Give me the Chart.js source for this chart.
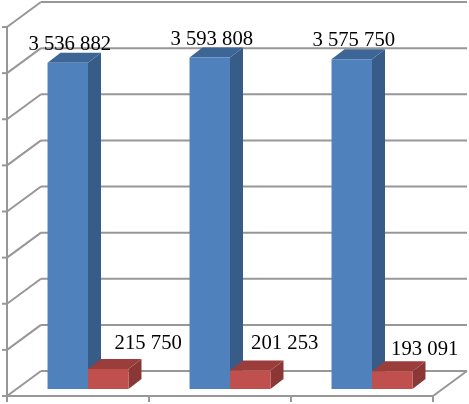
<!DOCTYPE html>
<html>
<head>
<meta charset="utf-8">
<style>html,body{margin:0;padding:0;background:#fff}canvas{display:block}</style>
<script src="https://cdn.jsdelivr.net/npm/chart.js@4/dist/chart.umd.min.js"></script>
</head>
<body>
<div style="width:469px;height:404px"><canvas id="c"></canvas></div>
<script>
const categories = ['A', 'B', 'C'];
const blueValues = [3536882, 3593808, 3575750];
const redValues = [215750, 201253, 193091];
const yTicks = [0, 500000, 1000000, 1500000, 2000000, 2500000, 3000000, 3500000, 4000000];

const blueLabels = ['3 536 882', '3 593 808', '3 575 750'];
const redLabels = ['215 750', '201 253', '193 091'];
const blueLabelNudge = [[2, -13], [2, -12], [2, -13]];
const redLabelNudge = [[40, -20], [34.5, -21], [32.5, -16]];

const BACK = [24, -18];   // bar plane -> back wall
const FRONT = [-10, 7];   // bar plane -> front edge of floor
const BAR_DEPTH = [13, -10];
const GRID = '#979797';

function poly(ctx, pts, fill) {
  ctx.beginPath();
  pts.forEach((p, i) => i ? ctx.lineTo(p[0], p[1]) : ctx.moveTo(p[0], p[1]));
  ctx.closePath();
  ctx.fillStyle = fill;
  ctx.fill();
}
function line(ctx, x1, y1, x2, y2) {
  ctx.beginPath(); ctx.moveTo(x1, y1); ctx.lineTo(x2, y2); ctx.stroke();
}
function block(ctx, el, sideColor, topColor) {
  const half = el.width / 2, l = el.x - half, r = el.x + half, t = el.y, b = el.base;
  const [dx, dy] = BAR_DEPTH;
  poly(ctx, [[r, t], [r + dx, t + dy], [r + dx, b + dy], [r, b]], sideColor);
  poly(ctx, [[l, t], [r, t], [r + dx, t + dy], [l + dx, t + dy]], topColor);
}

const walls3d = {
  id: 'walls3d',
  beforeDatasetsDraw(chart) {
    const { ctx, chartArea: a, scales: { y } } = chart;
    const fl = a.left + FRONT[0], fr = a.right + FRONT[0];
    const bl = a.left + BACK[0], br = a.right + BACK[0];
    ctx.save();
    ctx.strokeStyle = GRID;
    ctx.lineWidth = 2;
    yTicks.forEach(v => {
      const p = y.getPixelForValue(v);
      line(ctx, fl, p + FRONT[1], bl, p + BACK[1]);
      line(ctx, bl, p + BACK[1], br, p + BACK[1]);
      line(ctx, fl - 5, p + FRONT[1], fl, p + FRONT[1]);
    });
    const y0 = y.getPixelForValue(0), yMax = y.getPixelForValue(4000000);
    line(ctx, fl, yMax + FRONT[1], fl, y0 + FRONT[1]);
    line(ctx, fl, y0 + FRONT[1], fr, y0 + FRONT[1]);
    line(ctx, fr, y0 + FRONT[1], br, y0 + BACK[1]);
    for (let i = 0; i <= categories.length; i++) {
      const tx = fl + (fr - fl) * i / categories.length;
      line(ctx, tx, y0 + FRONT[1], tx, y0 + FRONT[1] + 6);
    }
    chart.getDatasetMeta(0).data.forEach(el => block(ctx, el, '#375C88', '#3D6696'));
    chart.getDatasetMeta(1).data.forEach(el => block(ctx, el, '#8A3735', '#9A3D3B'));
    ctx.restore();
  },
  afterDatasetsDraw(chart) {
    const { ctx } = chart;
    ctx.save();
    ctx.font = '20.7px "Liberation Serif"';
    ctx.fillStyle = '#000';
    ctx.textAlign = 'center';
    ctx.textBaseline = 'alphabetic';
    chart.getDatasetMeta(0).data.forEach((el, i) =>
      ctx.fillText(blueLabels[i], el.x + blueLabelNudge[i][0], el.y + blueLabelNudge[i][1]));
    chart.getDatasetMeta(1).data.forEach((el, i) =>
      ctx.fillText(redLabels[i], el.x + redLabelNudge[i][0], el.y + redLabelNudge[i][1]));
    ctx.restore();
  }
};

new Chart(document.getElementById('c'), {
  type: 'bar',
  data: {
    labels: categories,
    datasets: [
      { data: blueValues, backgroundColor: '#4F81BD', borderWidth: 0 },
      { data: redValues, backgroundColor: '#C0504D', borderWidth: 0 }
    ]
  },
  options: {
    responsive: true,
    maintainAspectRatio: false,
    animation: false,
    layout: { padding: { left: 17, right: 26, top: 20, bottom: 15 } },
    categoryPercentage: 0.57,
    barPercentage: 1,
    plugins: { legend: { display: false }, tooltip: { enabled: false }, title: { display: false } },
    scales: {
      x: { display: false },
      y: { display: false, min: 0, max: 4000000, ticks: { stepSize: 500000 } }
    }
  },
  plugins: [walls3d]
});
</script>
</body>
</html>
